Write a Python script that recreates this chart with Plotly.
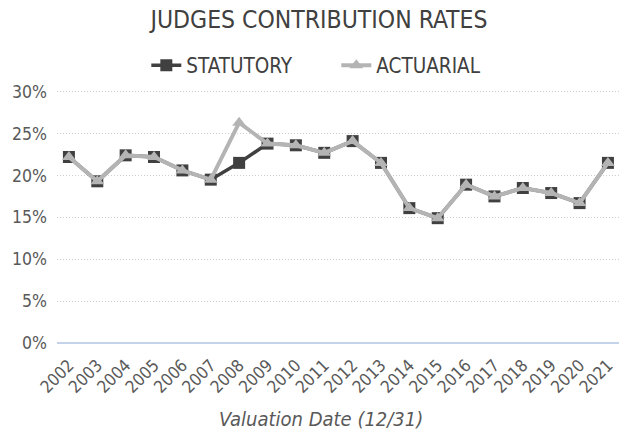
import plotly.graph_objects as go

years = [str(y) for y in range(2002, 2022)]
statutory = [22.2, 19.3, 22.4, 22.2, 20.6, 19.5, 21.5, 23.8, 23.6, 22.7,
             24.1, 21.5, 16.1, 14.9, 18.9, 17.5, 18.5, 17.9, 16.7, 21.5]
actuarial = [22.2, 19.3, 22.4, 22.2, 20.6, 19.5, 26.3, 23.8, 23.6, 22.7,
             24.1, 21.5, 16.1, 14.9, 18.9, 17.5, 18.5, 17.9, 16.7, 21.5]
y_ticks = [0, 5, 10, 15, 20, 25, 30]
y_tick_text = [f"{v}%" for v in y_ticks]

FONT = "DejaVu Sans Condensed"
TEXT = "#595959"

fig = go.Figure()
fig.add_trace(go.Scatter(
    x=years, y=statutory, name="STATUTORY", mode="lines+markers",
    line=dict(color="#404040", width=3.5),
    marker=dict(symbol="square", size=12, color="#404040"),
))
fig.add_trace(go.Scatter(
    x=years, y=actuarial, name="ACTUARIAL", mode="lines+markers",
    line=dict(color="#b4b4b4", width=4),
    marker=dict(symbol="triangle-up", size=12, color="#b4b4b4"),
))

fig.update_layout(
    width=619, height=433,
    margin=dict(l=57, r=0, t=90, b=90, autoexpand=False),
    paper_bgcolor="white", plot_bgcolor="white",
    font=dict(family=FONT, color=TEXT, size=16),
    title=dict(text="JUDGES CONTRIBUTION RATES", x=319 / 619, xanchor="center",
               yref="container", y=1 - 19 / 433, yanchor="middle",
               font=dict(family=FONT, size=24.5, color="#404040")),
    legend=dict(orientation="h", x=0.497, xanchor="center",
                yref="container", y=1 - 65.5 / 433, yanchor="middle",
                font=dict(family=FONT, size=20.5, color="#404040"),
                itemwidth=30, entrywidth=145, entrywidthmode="pixels",
                traceorder="normal"),
    showlegend=True,
    annotations=[dict(
        text="<i>Valuation Date (12/31)</i>", xref="paper", yref="paper",
        x=(321 - 57) / 562, y=(343 - 419) / 253,
        xanchor="center", yanchor="middle", showarrow=False,
        font=dict(family=FONT, size=20, color=TEXT),
    )],
)
fig.update_xaxes(
    type="category", range=[-0.42, 19.39], tickangle=-45,
    tickfont=dict(family=FONT, size=17, color=TEXT),
    showgrid=False, showline=False, ticks="", ticklabelstandoff=8,
    automargin=False,
)
fig.update_yaxes(
    range=[0, 30.2], tickvals=y_ticks, ticktext=y_tick_text,
    tickfont=dict(family=FONT, size=17.5, color=TEXT),
    showgrid=True, gridcolor="#cfcfcf", griddash="1px,2px", gridwidth=1,
    zeroline=True, zerolinecolor="#c5d3ea", zerolinewidth=2,
    ticks="", ticklabelstandoff=9, automargin=False,
)

fig.write_html("out.html")
